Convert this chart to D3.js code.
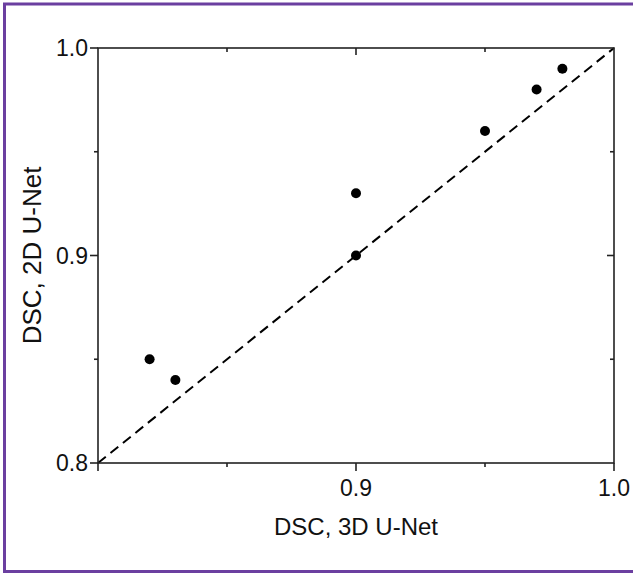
<!DOCTYPE html>
<html><head><meta charset="utf-8">
<script src="https://cdn.jsdelivr.net/npm/d3@7"></script>
<style>body{margin:0;background:#fff}svg{display:block}text{font-family:"Liberation Sans",Arial,sans-serif;fill:#111}</style>
</head><body>
<svg id="c" width="633" height="574"></svg>
<script>
const xValues = [0.82, 0.83, 0.90, 0.90, 0.95, 0.97, 0.98];
const yValues = [0.85, 0.84, 0.93, 0.90, 0.96, 0.98, 0.99];
const xTickLabels = [0.9, 1.0];
const yTickLabels = [0.8, 0.9, 1.0];
const minorTicks = [0.85, 0.95];
const xTitle = "DSC, 3D U-Net";
const yTitle = "DSC, 2D U-Net";

const svg = d3.select("#c");
const L = 98, R = 614, T = 48, B = 463;
const x = d3.scaleLinear().domain([0.8, 1.0]).range([L, R]);
const y = d3.scaleLinear().domain([0.8, 1.0]).range([B, T]);

svg.append("rect").attr("x", 4.5).attr("y", 4).attr("width", 660).attr("height", 567.5)
  .attr("fill", "none").attr("stroke", "#6b3fa0").attr("stroke-width", 3);

const g = svg.append("g");
g.append("line").attr("x1", x(0.8)).attr("y1", y(0.8)).attr("x2", x(1.0)).attr("y2", y(1.0))
  .attr("stroke", "#000").attr("stroke-width", 2).attr("stroke-dasharray", "10,6");

g.append("rect").attr("x", L).attr("y", T).attr("width", R - L).attr("height", B - T)
  .attr("fill", "none").attr("stroke", "#222").attr("stroke-width", 1.6);

const tickStyle = s => s.attr("stroke", "#222").attr("stroke-width", 1.6);
[0.8, 0.9, 1.0].forEach(v => tickStyle(g.append("line").attr("x1", L - 8).attr("x2", L).attr("y1", y(v)).attr("y2", y(v))));
minorTicks.forEach(v => tickStyle(g.append("line").attr("x1", L - 4).attr("x2", L).attr("y1", y(v)).attr("y2", y(v))));
[0.8, 0.9, 1.0].forEach(v => tickStyle(g.append("line").attr("x1", x(v)).attr("x2", x(v)).attr("y1", B).attr("y2", B + 8)));
minorTicks.forEach(v => tickStyle(g.append("line").attr("x1", x(v)).attr("x2", x(v)).attr("y1", B).attr("y2", B + 4)));
tickStyle(g.append("line").attr("x1", R - 7).attr("x2", R).attr("y1", y(0.9)).attr("y2", y(0.9)));
minorTicks.forEach(v => tickStyle(g.append("line").attr("x1", R - 4).attr("x2", R).attr("y1", y(v)).attr("y2", y(v))));
tickStyle(g.append("line").attr("x1", x(0.9)).attr("x2", x(0.9)).attr("y1", T).attr("y2", T + 7));
minorTicks.forEach(v => tickStyle(g.append("line").attr("x1", x(v)).attr("x2", x(v)).attr("y1", T).attr("y2", T + 4)));

yTickLabels.forEach(v => g.append("text").attr("x", L - 10).attr("y", y(v)).attr("dy", "0.36em")
  .attr("text-anchor", "end").attr("font-size", 23).text(v.toFixed(1)));
xTickLabels.forEach(v => g.append("text").attr("x", x(v)).attr("y", B + 33)
  .attr("text-anchor", "middle").attr("font-size", 23).text(v.toFixed(1)));

g.append("text").attr("x", (L + R) / 2).attr("y", 535).attr("text-anchor", "middle")
  .attr("font-size", 24).text(xTitle);
g.append("text").attr("transform", `translate(41,${(T + B) / 2}) rotate(-90)`).attr("text-anchor", "middle")
  .attr("font-size", 26).text(yTitle);

g.selectAll("circle.p").data(xValues.map((v, i) => [v, yValues[i]])).enter().append("circle")
  .attr("class", "p").attr("cx", d => x(d[0])).attr("cy", d => y(d[1])).attr("r", 5).attr("fill", "#000");
</script>
</body></html>
